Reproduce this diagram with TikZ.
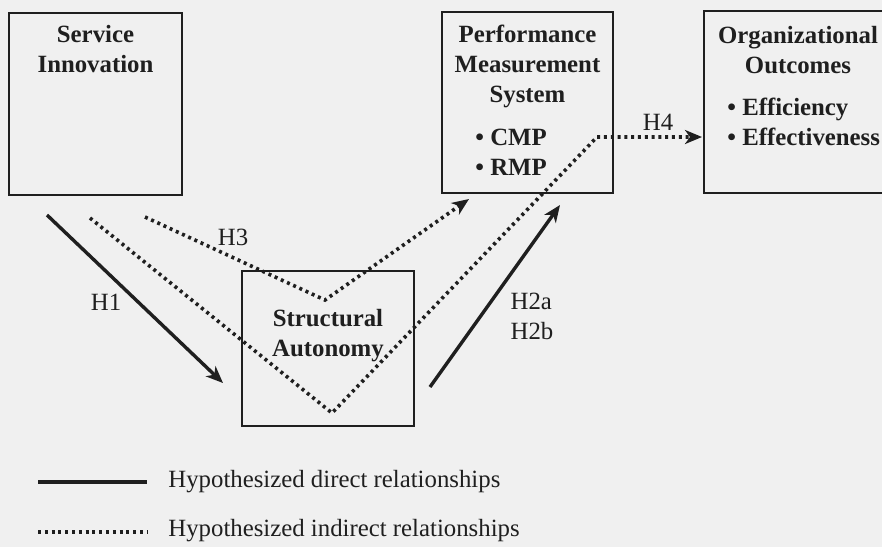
\documentclass[tikz,border=0pt]{standalone}
\usepackage{fontspec}
\setmainfont{Liberation Serif}
\usetikzlibrary{positioning,arrows.meta}

\begin{document}
\begin{tikzpicture}[x=0.5pt, y=-0.5pt,
        font=\fontsize{12.4}{15}\selectfont, color=black!88,
        box/.style={draw, line width=0.8pt, inner sep=0pt},
        ttl/.style={align=center, font=\fontsize{12.4}{15}\selectfont\bfseries, inner sep=0pt},
        lst/.style={align=left, font=\fontsize{12.4}{15}\selectfont\bfseries, inner sep=0pt},
        dir/.style={-{Stealth[length=8.5pt, width=7pt, inset=2.5pt]}, line width=1.7pt},
        dots/.style={line width=1.8pt, dash pattern=on 1.5pt off 1.9pt},
        ind/.style={dots, -{Stealth[length=8.5pt, width=7pt, inset=2.5pt]}}]
      \fill[black!6] (0,0) rectangle (882,547);
      \useasboundingbox (0,0) rectangle (882,547);

      % constructs
      \node[box, minimum width=86.5pt, minimum height=91pt] (si) at (95.5,104) {};
      \node[box, minimum width=86pt, minimum height=77.5pt] (sa) at (328,348.5) {};
      \node[box, minimum width=85.5pt, minimum height=90.5pt] (pms) at (527.5,102.5) {};
      \node[box, minimum width=94pt, minimum height=91pt] (oo) at (798,102) {};

      \node[ttl, below=6.5pt of si.north] (si-t) {Service\\Innovation};
      \node[ttl, below=19.5pt of sa.north] (sa-t) {Structural\\Autonomy};
      \node[ttl, below=6.5pt of pms.north] (pms-t) {Performance\\Measurement\\System};
      \node[ttl, below=8pt of oo.north] (oo-t) {Organizational\\Outcomes};
      \node[lst, anchor=north west] (pms-l) at (475,129) {\textbullet\ CMP\\\textbullet\ RMP};
      \node[lst, anchor=north west] (oo-l) at (727,98) {\textbullet\ Efficiency\\\textbullet\ Effectiveness};

      % hypotheses
      \coordinate (h1a) at (47,215);  \coordinate (h1b) at (223,383);
      \coordinate (h2a) at (430,387); \coordinate (h2b) at (560,205);
      \coordinate (h3a) at (145,217); \coordinate (h3v) at (325,300); \coordinate (h3b) at (469,199);
      \coordinate (h4a) at (90,218);  \coordinate (h4v) at (332,413); \coordinate (h4k) at (597,137);
      \coordinate (h4b) at (702,137);

      \draw[dir] (h1a) -- (h1b);
      \draw[dir] (h2a) -- (h2b);
      \draw[ind] (h3a) -- (h3v) -- (h3b);
      \draw[ind] (h4a) -- (h4v) -- (h4k) -- (h4b);

      \node (h1) at (106,302) {H1};
      \node[align=left] (h2) at (532,316) {H2a\\H2b};
      \node (h3) at (233,237) {H3};
      \node (h4) at (658,122) {H4};

      % legend
      \coordinate (l1a) at (38,482);  \coordinate (l1b) at (147,482);
      \coordinate (l2a) at (38,532);  \coordinate (l2b) at (147,532);
      \draw[line width=1.7pt] (l1a) -- (l1b);
      \draw[dots] (l2a) -- (l2b);
      \node[anchor=west, inner sep=0pt] (l1) at (168,482) {Hypothesized direct relationships};
      \node[anchor=west, inner sep=0pt] (l2) at (168,531) {Hypothesized indirect relationships};
      \end{tikzpicture}
\end{document}
